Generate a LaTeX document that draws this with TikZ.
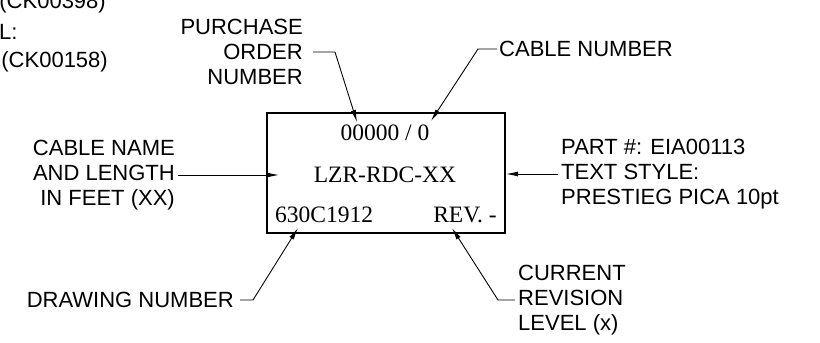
\documentclass[tikz,border=0pt]{standalone}
\usepackage[svgnames]{xcolor}
\usepackage{fontspec}
\setmainfont{Liberation Serif}
\newfontfamily\cadfont{Liberation Sans}
\usepackage{tikz}
\usetikzlibrary{
  arrows.meta}

\begin{document}
\begin{tikzpicture}[x=1pt,y=-1pt,
  callout/.style={font=\cadfont\fontsize{22}{25}\selectfont, inner sep=0pt},
  stamp/.style={font=\fontsize{23.5}{26}\selectfont, inner sep=0pt},
  leader/.style={line width=0.9pt, -{Latex[length=12pt,width=5pt]}}]
\useasboundingbox (0,0) rectangle (820,343);

% text of the neighbouring sheet, cut at the edge
\node[callout, anchor=east] (prevA) at (106,3) {(CK00398)};
\node[callout, anchor=west] (prevB) at (-1,32) {L:};
\node[callout, anchor=east] (prevC) at (108,62) {(CK00158)};

% the label itself
\node[draw, line width=1.7pt, minimum width=238pt, minimum height=120pt,
  inner sep=0pt] (tag) at (386,173) {};
\node[stamp] (ponum) at (385,133) {00000 / 0};
\node[stamp] (cname) at (385,175) {LZR-RDC-XX};
\node[stamp, anchor=west] (dwgnum) at (275,215) {630C1912};
\node[stamp, anchor=east] (revlvl) at (497,215) {REV. -};

% callouts
\node[callout, align=right, anchor=east] (purch) at (303,52)
  {PURCHASE\\ORDER\\NUMBER};
\node[callout, anchor=west] (cablenum) at (499,49) {CABLE NUMBER};
\node[callout, align=right, anchor=east] (cablename) at (175,175)
  {CABLE NAME\\AND LENGTH\\IN FEET (XX)};
\node[callout, align=left, anchor=west] (partinfo) at (561,174)
  {PART \#: EIA00113\\TEXT STYLE:\\PRESTIEG PICA 10pt};
\node[callout, anchor=east] (drawing) at (234,300) {DRAWING NUMBER};
\node[callout, align=left, anchor=west] (current) at (518,300)
  {CURRENT\\REVISION\\LEVEL (x)};

\coordinate (poTip) at (357,122);
\coordinate (cnTip) at (431,121);
\coordinate (nameTip) at (279,175);
\coordinate (partTip) at (506,174);
\coordinate (dwgTip) at (298,228);
\coordinate (revTip) at (452,228);

\draw[leader] ([xshift=10pt]purch.east) -- ++(22pt,0) -- (poTip);
\draw[leader] ([xshift=-2pt]cablenum.west) -- ++(-19pt,0) -- (cnTip);
\draw[leader] ([xshift=3pt]cablename.east) -- (nameTip);
\draw[leader] ([xshift=-3pt]partinfo.west) -- (partTip);
\draw[leader] ([xshift=6pt]drawing.east) -- ++(13pt,0) -- (dwgTip);
\draw[leader] ([xshift=-3pt]current.west) -- ++(-17pt,0) -- (revTip);

\end{tikzpicture}
\end{document}
